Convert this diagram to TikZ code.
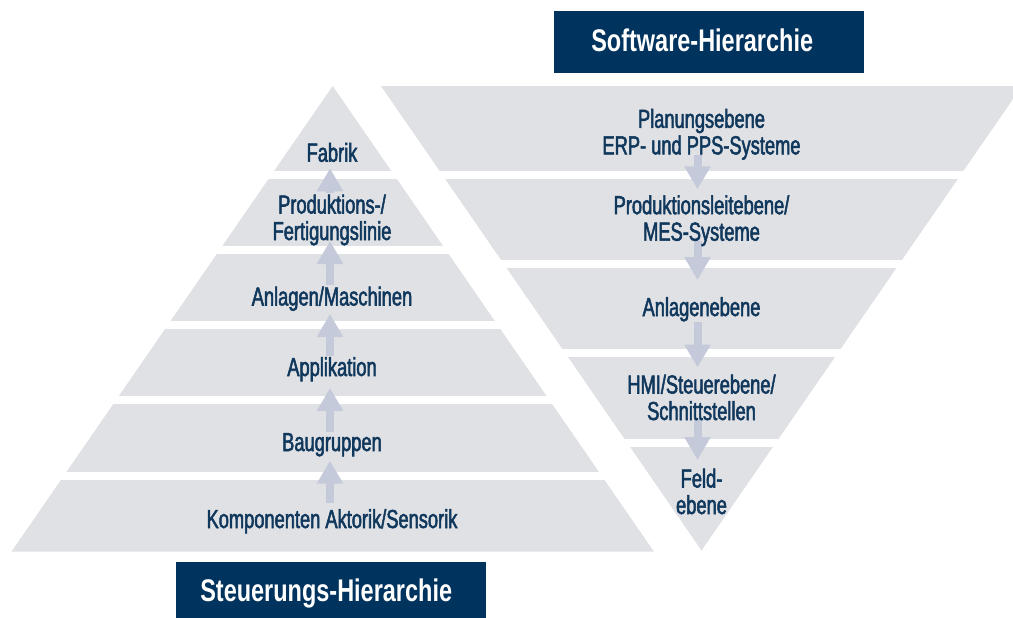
\documentclass[tikz,border=0pt]{standalone}
\usepackage{fontspec}
\setmainfont{Liberation Sans}[FakeStretch=0.75]
\newfontfamily\lblfam{Liberation Sans}[FakeStretch=0.70,FakeBold=2]
\usetikzlibrary{arrows.meta}
\definecolor{bandgray}{RGB}{224,225,228}
\definecolor{arrowc}{RGB}{197,202,218}
\definecolor{navytext}{RGB}{16,55,92}
\definecolor{navybox}{RGB}{0,51,93}
\newcommand{\lblfont}{\lblfam\fontsize{26.1}{26.5}\selectfont}
\newcommand{\ttlfont}{\fontsize{31.3}{32}\selectfont\bfseries}
\begin{document}
\begin{tikzpicture}[x=1pt,y=-1pt,
  bandfill/.style={fill=bandgray},
  lbl/.style={font=\lblfont, text=navytext, align=center, inner sep=0pt, anchor=base},
  blockarrow/.style={draw=arrowc, line width=8pt, line cap=butt, -{Triangle[width=25pt,length=23pt]}},
  tbox/.style={fill=navybox, draw=none, inner sep=0pt},
  ttext/.style={font=\ttlfont, text=white, inner sep=0pt, anchor=base}]
\useasboundingbox (0,0) rectangle (1013,618);
\clip (0,0) rectangle (1013,618);
% left pyramid
\coordinate (LA) at (332.7,86);
\coordinate (LB) at (11.4,551.7);
\coordinate (LC) at (654,551.7);
\begin{scope}
  \clip (LA) -- (LB) -- (LC) -- cycle;
  \foreach \a/\b in {86/171,179/246,254/321,329/396,404/471.5,479.5/551.7}
    \fill[bandfill] (0,\a) rectangle (700,\b);
\end{scope}
% right pyramid
\coordinate (RA) at (381,86);
\coordinate (RB) at (1022,86);
\coordinate (RC) at (701.5,550.5);
\begin{scope}
  \clip (RA) -- (RB) -- (RC) -- cycle;
  \foreach \a/\b in {86/171,179.3/260,268.3/349,357.3/438.5,446.7/550.5}
    \fill[bandfill] (370,\a) rectangle (1030,\b);
\end{scope}
% arrow tips
\coordinate (tL1) at (330,168.3);
\coordinate (tL2) at (330,241);
\coordinate (tL3) at (330,314);
\coordinate (tL4) at (330,388);
\coordinate (tL5) at (330,460.7);
\coordinate (tR1) at (697.5,189.3);
\coordinate (tR2) at (697.5,280);
\coordinate (tR3) at (697.5,367.5);
\coordinate (tR4) at (697.5,460);
% label geometry (placeholders)
\path
  node[lbl] (fab) at (332,161.7) {\phantom{Fabrik}}
  node[lbl] (prod) at (332,240) {\phantom{Produktions-/}\\\phantom{Fertigungslinie}}
  node[lbl] (anl) at (332,305.5) {\phantom{Anlagen/Maschinen}}
  node[lbl] (app) at (332,376) {\phantom{Applikation}}
  node[lbl] (bau) at (332,451) {\phantom{Baugruppen}}
  node[lbl] (komp) at (332,528) {\phantom{Komponenten Aktorik/Sensorik}}
  node[lbl] (plan) at (701.5,154.3) {\phantom{Planungsebene}\\\phantom{ERP- und PPS-Systeme}}
  node[lbl] (mes) at (701.5,240.7) {\phantom{Produktionsleitebene/}\\\phantom{MES-Systeme}}
  node[lbl] (anlr) at (701.5,316) {\phantom{Anlagenebene}}
  node[lbl] (hmi) at (701.5,420) {\phantom{HMI/Steuerebene/}\\\phantom{Schnittstellen}}
  node[lbl] (feld) at (701.5,514) {\phantom{Feld-}\\\phantom{ebene}};
% arrows
\draw[blockarrow, shorten <=1pt] (prod.north -| tL1) -- (tL1);
\draw[blockarrow, shorten <=1pt] (anl.north -| tL2) -- (tL2);
\draw[blockarrow, shorten <=1pt] (app.north -| tL3) -- (tL3);
\draw[blockarrow, shorten <=1pt] (bau.north -| tL4) -- (tL4);
\draw[blockarrow, shorten <=6pt] (komp.north -| tL5) -- (tL5);
\draw[blockarrow] ([yshift=5pt]plan.south -| tR1) -- (tR1);
\draw[blockarrow] ([yshift=5pt]mes.south -| tR2) -- (tR2);
\draw[blockarrow] (anlr.south -| tR3) -- (tR3);
\draw[blockarrow] (hmi.south -| tR4) -- (tR4);
% labels
\node[lbl] at (fab.base) {Fabrik};
\node[lbl] at (prod.base) {Produktions-/\\Fertigungslinie};
\node[lbl] at (anl.base) {Anlagen/Maschinen};
\node[lbl] at (app.base) {Applikation};
\node[lbl] at (bau.base) {Baugruppen};
\node[lbl] at (komp.base) {Komponenten Aktorik/Sensorik};
\node[lbl] at (plan.base) {Planungsebene\\ERP- und PPS-Systeme};
\node[lbl] at (mes.base) {Produktionsleitebene/\\MES-Systeme};
\node[lbl] at (anlr.base) {Anlagenebene};
\node[lbl] at (hmi.base) {HMI/Steuerebene/\\Schnittstellen};
\node[lbl] at (feld.base) {Feld-\\ebene};
% title boxes
\node[tbox, minimum width=310pt, minimum height=61.7pt] (swbox) at (709,41.85) {};
\node[ttext] (swtxt) at (702.2,51.7) {Software-Hierarchie};
\node[tbox, minimum width=310.3pt, minimum height=56pt] (stbox) at (330.85,590.15) {};
\node[ttext] (sttxt) at (326.2,601.5) {Steuerungs-Hierarchie};
\end{tikzpicture}
\end{document}
